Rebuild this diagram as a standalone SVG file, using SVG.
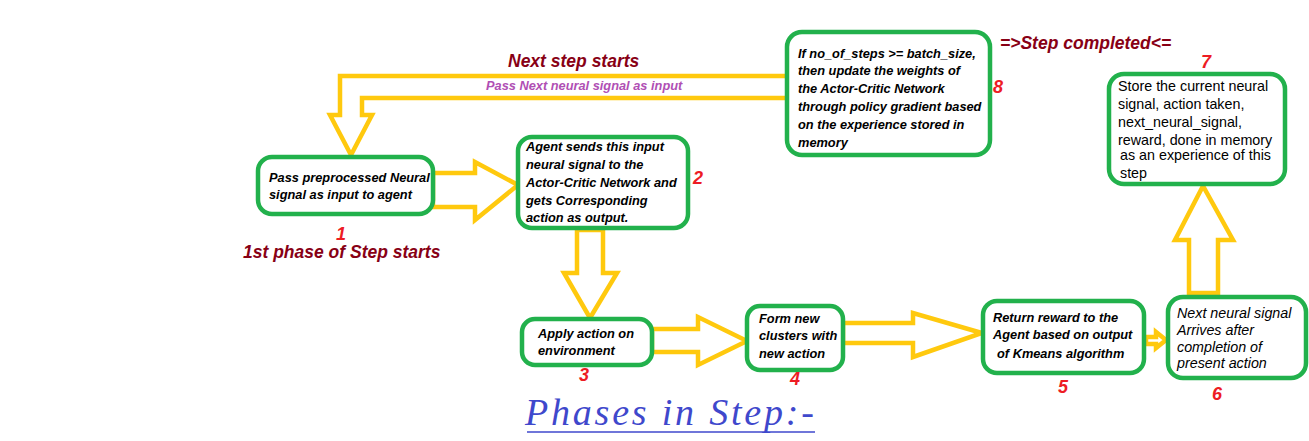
<svg xmlns="http://www.w3.org/2000/svg" width="1309" height="441" viewBox="0 0 1309 441">
<style>
.box{fill:#fff;stroke:#22b14c;stroke-width:4.5}
.arr{fill:#fff;stroke:#ffc90e;stroke-width:4.5;stroke-linejoin:miter}
.t{font-family:"Liberation Sans",Arial,sans-serif;font-size:12.8px;font-style:italic;font-weight:bold;fill:#000}
.tr{font-family:"Liberation Sans",Arial,sans-serif;font-size:14.3px;fill:#000}
.ti{font-family:"Liberation Sans",Arial,sans-serif;font-size:14.3px;font-style:italic;fill:#000}
.num{font-family:"Liberation Sans",Arial,sans-serif;font-size:18px;font-style:italic;font-weight:bold;fill:#ed1c24;text-anchor:middle}
.head{font-family:"Liberation Sans",Arial,sans-serif;font-size:17.5px;font-style:italic;font-weight:bold;fill:#880015}
</style>
<rect width="1309" height="441" fill="#fff"/>
<g id="connectors">
<polyline class="arr" fill="none" points="787,76 340,76 340,115 330,115 351,155 372,115 362,115 362,98 787,98"/>
<polygon class="arr" points="433,173 475,173 475,162 518,185 475,220 475,207 433,207"/>
<polygon class="arr" points="577,230 577,273 564,273 590,318 617,273 603,273 603,230"/>
<polygon class="arr" points="652,329 698,329 698,317 747,341 698,365 698,352 652,352"/>
<polygon class="arr" points="843,323 913,323 913,313 982,333 913,357 913,343 843,343"/>
<polygon class="arr" points="1146,337 1156,337 1156,332 1166,340 1156,348 1156,344 1146,344"/>
<polygon class="arr" points="1189,293 1189,240 1175,240 1203,186 1233,240 1218,240 1218,293"/>
</g>
<g id="labels">
<text class="head" x="508" y="67">Next step starts</text>
<text x="486" y="90" font-family="Liberation Sans,Arial,sans-serif" font-size="12.8" font-style="italic" font-weight="bold" fill="#b04fb4">Pass Next neural signal as input</text>
<text class="head" x="1000" y="49">=&gt;Step completed&lt;=</text>
<text class="head" x="243" y="258" font-size="18.5">1st phase of Step starts</text>
<text x="525" y="425" font-family="Liberation Serif,Times New Roman,serif" font-size="38" font-style="italic" letter-spacing="2.8" fill="#3f48cc">Phases in Step:-</text>
<line x1="527" y1="432" x2="815" y2="432" stroke="#3f48cc" stroke-width="1.5"/>
</g>
<g id="node1">
<rect class="box" x="258" y="157" width="175" height="57" rx="14"/>
<text class="t" x="269" y="182">Pass preprocessed Neural</text>
<text class="t" x="269" y="199">signal as input to agent</text>
<text class="num" x="341" y="240">1</text>
</g>
<g id="node2">
<rect class="box" x="518" y="137" width="170" height="91" rx="14"/>
<text class="t" x="526" y="151">Agent sends this input</text>
<text class="t" x="526" y="169">neural signal to the</text>
<text class="t" x="526" y="187">Actor-Critic Network and</text>
<text class="t" x="526" y="205">gets Corresponding</text>
<text class="t" x="526" y="222">action as output.</text>
<text class="num" x="698" y="184">2</text>
</g>
<g id="node3">
<rect class="box" x="522" y="319" width="130" height="46" rx="13"/>
<text class="t" x="538" y="338">Apply action on</text>
<text class="t" x="538" y="355">environment</text>
<text class="num" x="584" y="381">3</text>
</g>
<g id="node4">
<rect class="box" x="747" y="306" width="96" height="64" rx="13"/>
<text class="t" x="759" y="323">Form new</text>
<text class="t" x="759" y="340">clusters with</text>
<text class="t" x="759" y="358">new action</text>
<text class="num" x="795" y="385">4</text>
</g>
<g id="node5">
<rect class="box" x="983" y="301" width="161" height="72" rx="14"/>
<text class="t" x="993" y="322">Return reward to the</text>
<text class="t" x="993" y="339">Agent based on output</text>
<text class="t" x="997" y="358">of Kmeans algorithm</text>
<text class="num" x="1063" y="393">5</text>
</g>
<g id="node6">
<rect class="box" x="1168" y="297" width="138" height="81" rx="15"/>
<text class="ti" x="1177" y="318">Next neural signal</text>
<text class="ti" x="1177" y="335">Arrives after</text>
<text class="ti" x="1177" y="352">completion of</text>
<text class="ti" x="1177" y="368">present action</text>
<text class="num" x="1217" y="400">6</text>
</g>
<g id="node7">
<rect class="box" x="1109" y="74" width="176" height="110" rx="15"/>
<text class="tr" x="1118" y="91">Store the current neural</text>
<text class="tr" x="1118" y="109">signal, action taken,</text>
<text class="tr" x="1118" y="127">next_neural_signal,</text>
<text class="tr" x="1118" y="145">reward, done in memory</text>
<text class="tr" x="1120" y="160">as an experience of this</text>
<text class="tr" x="1120" y="178">step</text>
<text class="num" x="1206" y="68">7</text>
</g>
<g id="node8">
<rect class="box" x="787" y="32" width="203" height="123" rx="15"/>
<text class="t" x="798" y="58">If no_of_steps &gt;= batch_size,</text>
<text class="t" x="798" y="75">then update the weights of</text>
<text class="t" x="798" y="93">the Actor-Critic Network</text>
<text class="t" x="798" y="111">through policy gradient based</text>
<text class="t" x="798" y="129">on the experience stored in</text>
<text class="t" x="798" y="147">memory</text>
<text class="num" x="998" y="93">8</text>
</g>
</svg>
